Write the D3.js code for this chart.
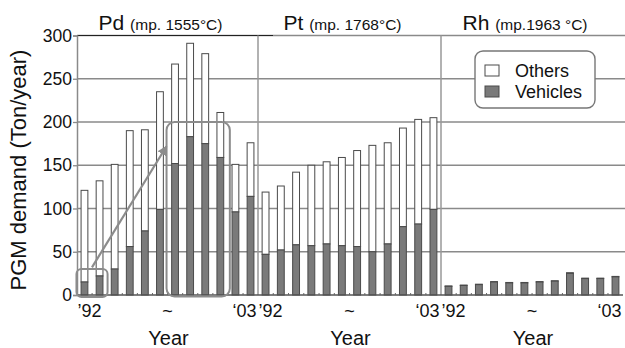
<!DOCTYPE html>
<html>
<head>
<meta charset="utf-8">
<script src="https://cdn.jsdelivr.net/npm/d3@7/dist/d3.min.js"></script>
<style>
  html, body { margin: 0; padding: 0; background: #fff; }
  svg { display: block; }
  text { font-family: "Liberation Sans", Arial, Helvetica, sans-serif; fill: #111; }
</style>
</head>
<body>
<svg id="chart" width="625" height="348"></svg>
<script>
// Annual PGM demand, 1992–2003, split into vehicle use and other uses (tons/year)
const years = ["1992","1993","1994","1995","1996","1997","1998","1999","2000","2001","2002","2003"];
const tickLabels = ["\u201992", "~", "\u201803"];
const yTicks = [0, 50, 100, 150, 200, 250, 300];

const pdVehicles = [15, 22, 30, 56, 74, 99, 152, 183, 175, 159, 96, 114];
const pdOthers   = [106, 110, 121, 134, 117, 136, 115, 108, 104, 52, 55, 62];
const ptVehicles = [47, 52, 58, 57, 59, 57, 56, 50, 59, 79, 82, 99];
const ptOthers   = [72, 74, 84, 93, 95, 102, 111, 123, 117, 114, 121, 106];
const rhVehicles = [10, 11, 12, 15, 14, 14, 15, 16, 25, 19, 19, 21];
const rhOthers   = [0.5, 0.5, 0.5, 0.5, 0.5, 0.5, 0.5, 0.5, 0.8, 0.5, 0.5, 0.5];

const panels = [
  { metal: "Pd", mp: "(mp. 1555\u00B0C)", x0: 77,  x1: 258, vehicles: pdVehicles, others: pdOthers },
  { metal: "Pt", mp: "(mp. 1768\u00B0C)", x0: 258, x1: 441, vehicles: ptVehicles, others: ptOthers },
  { metal: "Rh", mp: "(mp.1963 \u00B0C)", x0: 441, x1: 623, vehicles: rhVehicles, others: rhOthers }
];

const svg = d3.select("#chart");
const W = 625;
const y = d3.scaleLinear().domain([0, 300]).range([295, 35.5]);

const gridColor = "#8a8a8a";
const barStroke = "#4a4a4a";
const vehFill = "#7a7a7a";

// horizontal grid lines
svg.append("g").selectAll("line")
  .data(yTicks.filter(d => d > 0 && d < 300))
  .join("line")
  .attr("x1", 77).attr("x2", W)
  .attr("y1", d => y(d)).attr("y2", d => y(d))
  .attr("stroke", gridColor).attr("stroke-width", 1.3);

// top frame line
svg.append("line").attr("x1", 77).attr("x2", W).attr("y1", y(300)).attr("y2", y(300))
  .attr("stroke", gridColor).attr("stroke-width", 1.3);
svg.append("line").attr("x1", 77).attr("x2", 273).attr("y1", y(300)).attr("y2", y(300))
  .attr("stroke", "#222").attr("stroke-width", 1.2);

// panel dividers
panels.slice(1).forEach(p => {
  svg.append("line").attr("x1", p.x0).attr("x2", p.x0).attr("y1", y(300)).attr("y2", y(0))
    .attr("stroke", "#999").attr("stroke-width", 1.5);
});

// left axis
const yAxis = svg.append("g").attr("transform", "translate(77,0)")
  .call(d3.axisLeft(y).tickValues(yTicks).tickSize(4).tickPadding(1).tickFormat(d3.format("d")));
yAxis.select(".domain").attr("stroke", gridColor).attr("stroke-width", 1.5);
yAxis.selectAll(".tick line").attr("stroke", gridColor).attr("stroke-width", 1.3);
yAxis.selectAll(".tick text").attr("font-size", 17.5).attr("fill", "#111")
  .attr("font-family", "'Liberation Sans', Arial, sans-serif");

panels.forEach(p => {
  const x = d3.scaleBand().domain(years).range([p.x0, p.x1]).paddingInner(0.55).paddingOuter(0.27);
  const rows = years.map((yr, i) => ({ yr, veh: p.vehicles[i], oth: p.others[i] }));
  const g = svg.append("g");

  // others stacked on top of vehicles
  g.selectAll("rect.oth").data(rows).join("rect")
    .attr("class", "oth")
    .attr("x", d => x(d.yr)).attr("width", x.bandwidth())
    .attr("y", d => y(d.veh + d.oth)).attr("height", d => y(d.veh) - y(d.veh + d.oth))
    .attr("fill", "#fff").attr("stroke", barStroke).attr("stroke-width", 1);

  g.selectAll("rect.veh").data(rows).join("rect")
    .attr("class", "veh")
    .attr("x", d => x(d.yr)).attr("width", x.bandwidth())
    .attr("y", d => y(d.veh)).attr("height", d => y(0) - y(d.veh))
    .attr("fill", vehFill).attr("stroke", barStroke).attr("stroke-width", 1);

  // baseline with small ticks between bars
  g.append("line").attr("x1", p.x0).attr("x2", p.x1).attr("y1", y(0)).attr("y2", y(0))
    .attr("stroke", "#555").attr("stroke-width", 1.3);
  g.selectAll("line.mt").data(years.slice(1)).join("line")
    .attr("class", "mt")
    .attr("x1", d => x(d) - x.step() * 0.27).attr("x2", d => x(d) - x.step() * 0.27)
    .attr("y1", y(0)).attr("y2", y(0) - 2)
    .attr("stroke", "#666").attr("stroke-width", 1);

  // category labels: first, middle, last
  const cx = i => x(years[i]) + x.bandwidth() / 2;
  const labelPos = [
    { t: tickLabels[0], xx: cx(0) + 5 },
    { t: tickLabels[1], xx: (cx(5) + cx(6)) / 2 },
    { t: tickLabels[2], xx: cx(11) - 6 }
  ];
  g.selectAll("text.xl").data(labelPos).join("text")
    .attr("class", "xl")
    .attr("x", d => d.xx).attr("y", 317)
    .attr("text-anchor", "middle").attr("font-size", 18)
    .text(d => d.t);

  g.append("text").attr("x", (cx(5) + cx(6)) / 2 + 1).attr("y", 345)
    .attr("text-anchor", "middle").attr("font-size", 20).text("Year");

  // panel title
  const title = g.append("text").attr("x", (p.x0 + p.x1) / 2 - 7).attr("y", 30)
    .attr("text-anchor", "middle");
  title.append("tspan").attr("font-size", 21).text(p.metal + " ");
  title.append("tspan").attr("font-size", 15.5).text(p.mp);

  p.scale = x;
});

// highlight boxes and arrow on the Pd panel
const xPd = panels[0].scale;
const cPd = i => xPd(years[i]) + xPd.bandwidth() / 2;
const hl = "#8c8c8c";
svg.append("rect")
  .attr("x", cPd(0) - 8).attr("y", y(30))
  .attr("width", cPd(1) - cPd(0) + 16).attr("height", y(0) + 2 - y(30))
  .attr("rx", 5).attr("fill", "none").attr("stroke", hl).attr("stroke-width", 2);
svg.append("rect")
  .attr("x", cPd(6) - 8.5).attr("y", y(200))
  .attr("width", cPd(9) - cPd(6) + 18).attr("height", y(0) + 1.5 - y(200))
  .attr("rx", 8).attr("fill", "none").attr("stroke", hl).attr("stroke-width", 2);

svg.append("defs").append("marker")
  .attr("id", "ah").attr("viewBox", "0 0 10 10").attr("refX", 9).attr("refY", 5)
  .attr("markerWidth", 4.5).attr("markerHeight", 4.5).attr("orient", "auto")
  .append("path").attr("d", "M0,0 L10,5 L0,10 Z").attr("fill", hl);
svg.append("line")
  .attr("x1", cPd(0) + 7.5).attr("y1", y(32))
  .attr("x2", cPd(6) - 8.5).attr("y2", y(172))
  .attr("stroke", hl).attr("stroke-width", 2.2).attr("marker-end", "url(#ah)");

// y axis title
svg.append("text")
  .attr("transform", "translate(26,170) rotate(-90)")
  .attr("text-anchor", "middle").attr("font-size", 22)
  .text("PGM demand (Ton/year)");

// legend
const lg = svg.append("g");
lg.append("rect").attr("x", 475).attr("y", 51).attr("width", 120).attr("height", 57)
  .attr("rx", 8).attr("fill", "#fff").attr("stroke", "#777").attr("stroke-width", 1.4);
const legendItems = [
  { name: "Others", fill: "#fff", yy: 65 },
  { name: "Vehicles", fill: vehFill, yy: 86 }
];
legendItems.forEach(d => {
  lg.append("rect").attr("x", 485).attr("y", d.yy).attr("width", 14).attr("height", 11)
    .attr("fill", d.fill).attr("stroke", barStroke).attr("stroke-width", 1);
  lg.append("text").attr("x", 515).attr("y", d.yy + 12).attr("font-size", 18).text(d.name);
});
</script>
</body>
</html>
